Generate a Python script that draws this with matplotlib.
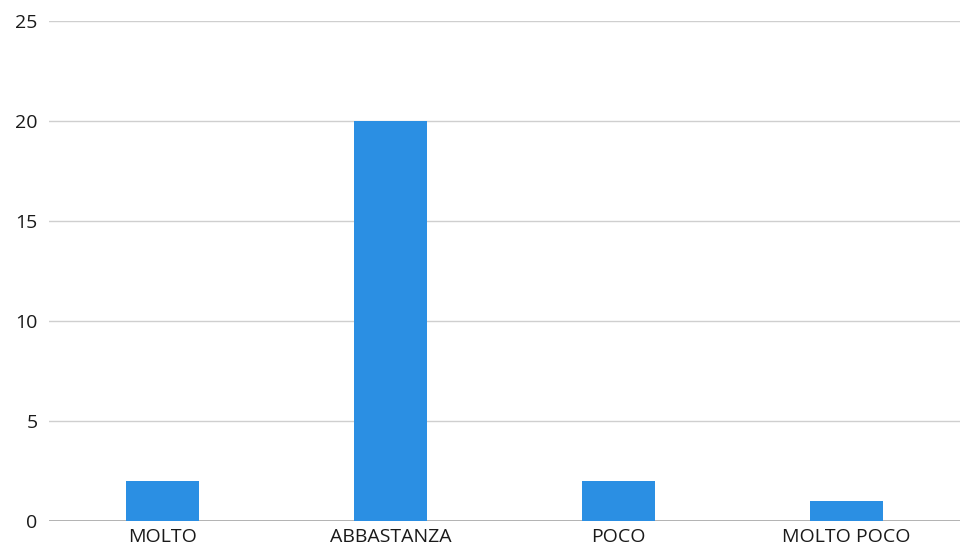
import matplotlib
matplotlib.use("Agg")
import matplotlib.pyplot as plt

categories = ["MOLTO", "ABBASTANZA", "POCO", "MOLTO POCO"]
values = [2, 20, 2, 1]
yticks = [0, 5, 10, 15, 20, 25]

plt.rcParams['font.family'] = ['Open Sans', 'DejaVu Sans']

fig = plt.figure(figsize=(9.72, 5.51), dpi=100)
ax = fig.add_axes([0.050, 0.054, 0.938, 0.908])

x = range(len(categories))
ax.bar(x, values, width=0.32, color='#2B8FE3', zorder=3)

ax.set_xlim(-0.5, len(categories) - 0.5)
ax.set_ylim(0, 25)
ax.set_yticks(yticks)
ax.set_xticks(list(x))
ax.set_xticklabels(categories)

ax.grid(axis='y', color='#cfcfcf', linewidth=1, zorder=0)
ax.axhline(0, color='#a8a8a8', linewidth=1.2, zorder=2)
for s in ax.spines.values():
    s.set_visible(False)
ax.tick_params(axis='both', length=0, labelsize=14, colors='#1a1a1a')
ax.tick_params(axis='x', pad=5)
ax.tick_params(axis='y', pad=8)

fig.savefig("out.png", dpi=100)
